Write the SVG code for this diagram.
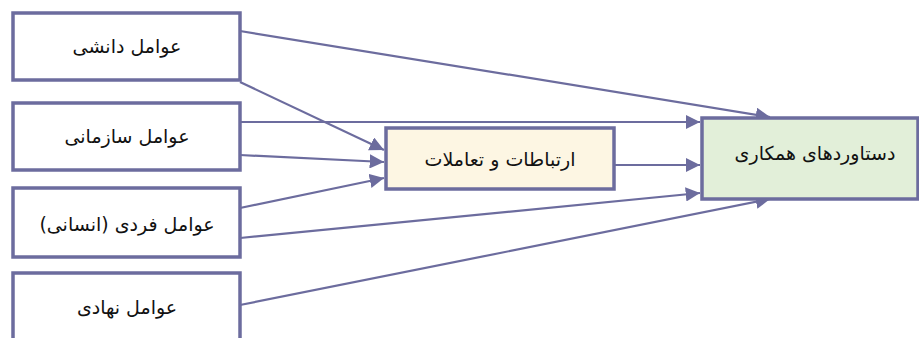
<svg xmlns="http://www.w3.org/2000/svg" width="919" height="338" viewBox="0 0 919 338">
<style>
.box{stroke:#6c6c9e;stroke-width:3.5;}
.w{fill:#ffffff;}
.mid{fill:#fdf6e3;}
.res{fill:#e2efd9;}
.t{font-family:"DejaVu Sans","Noto Sans",sans-serif;font-size:19px;fill:#111;text-anchor:middle;direction:rtl;}
.c{stroke:#6c6c9e;stroke-width:2.2;fill:none;marker-end:url(#ah);}
</style>
<defs>
<marker id="ah" viewBox="0 0 10 10" refX="10" refY="5" markerWidth="6.5" markerHeight="6.5" markerUnits="strokeWidth" orient="auto">
<path d="M0,0 L10,5 L0,10 Z" fill="#6c6c9e"/>
</marker>
</defs>
<rect width="919" height="338" fill="#ffffff"/>
<g id="connectors">
<line class="c" x1="240" y1="31" x2="770" y2="117"/>
<line class="c" x1="240" y1="82" x2="384" y2="150"/>
<line class="c" x1="240" y1="122" x2="700" y2="122"/>
<line class="c" x1="240" y1="155" x2="384" y2="162"/>
<line class="c" x1="240" y1="208" x2="384" y2="178"/>
<line class="c" x1="614" y1="165" x2="700" y2="165"/>
<line class="c" x1="240" y1="238" x2="700" y2="193"/>
<line class="c" x1="240" y1="305" x2="770" y2="199"/>
</g>
<g id="n1"><rect class="box w" x="13" y="13" width="227" height="67"/><text class="t" x="127" y="53">عوامل دانشی</text></g>
<g id="n2"><rect class="box w" x="13" y="103" width="227" height="67"/><text class="t" x="127" y="143">عوامل سازمانی</text></g>
<g id="n3"><rect class="box w" x="13" y="188" width="227" height="69"/><text class="t" x="127" y="231">عوامل فردی (انسانی)</text></g>
<g id="n4"><rect class="box w" x="13" y="273" width="227" height="80"/><text class="t" x="127" y="314">عوامل نهادی</text></g>
<g id="n5"><rect class="box mid" x="386" y="128" width="228" height="61"/><text class="t" x="500" y="166">ارتباطات و تعاملات</text></g>
<g id="n6"><rect class="box res" x="702" y="118" width="216" height="81"/><text class="t" x="815" y="160">دستاوردهای همکاری</text></g>
</svg>
